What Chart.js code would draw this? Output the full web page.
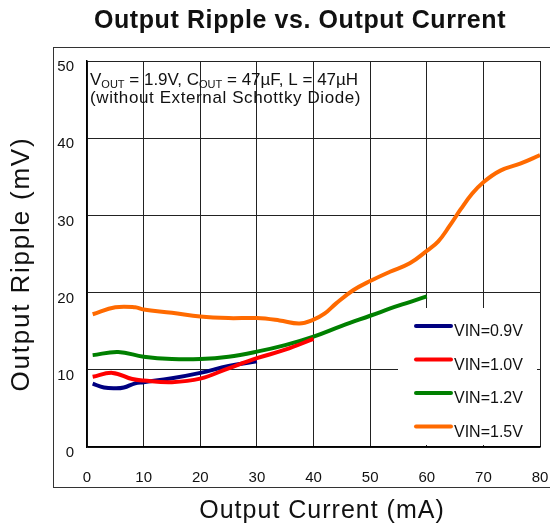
<!DOCTYPE html>
<html>
<head>
<meta charset="utf-8">
<script src="https://cdn.jsdelivr.net/npm/chart.js@4.4.1/dist/chart.umd.min.js"></script>
<style>
  html, body { margin: 0; padding: 0; background: #fff; }
  canvas { display: block; }
</style>
</head>
<body>
<canvas id="ripple" width="550" height="524"></canvas>
<script>
(() => {
  'use strict';

  // output current (mA) / output ripple (mV) per input voltage
  const vin09Current = [1, 3, 5, 6.5, 8.5, 10, 15, 20, 25, 30];
  const vin09Ripple = [8.2, 7.7, 7.6, 7.7, 8.25, 8.4, 8.9, 9.6, 10.5, 11.1];

  const vin10Current = [1, 4.5, 8, 10, 15, 20, 25, 30, 35, 40];
  const vin10Ripple = [9.1, 9.6, 8.8, 8.6, 8.4, 8.85, 10.2, 11.5, 12.6, 14.0];

  const vin12Current = [1, 5.5, 10, 15, 20, 25, 30, 35, 40, 45, 50, 55, 60];
  const vin12Ripple = [11.9, 12.3, 11.7, 11.4, 11.4, 11.7, 12.35, 13.2, 14.3, 15.7, 17.0, 18.3, 19.5];

  const vin15Current = [1, 5, 8.5, 10, 15, 20, 25, 30, 34, 37.5, 40, 42, 44, 47, 50, 53.5, 57, 60, 62, 64, 66, 68, 70, 73, 76.5, 80];
  const vin15Ripple = [17.2, 18.1, 18.1, 17.8, 17.4, 16.9, 16.7, 16.7, 16.4, 16.0, 16.5, 17.3, 18.6, 20.3, 21.5, 22.7, 23.8, 25.4, 26.6, 28.6, 30.8, 32.8, 34.3, 35.8, 36.7, 37.8];

  const seriesLabels = ['VIN=0.9V', 'VIN=1.0V', 'VIN=1.2V', 'VIN=1.5V'];
  const seriesColors = ['#000080', '#ff0000', '#008000', '#ff6a00'];

  const xTicks = [0, 10, 20, 30, 40, 50, 60, 70, 80];
  const yTicks = [0, 10, 20, 30, 40, 50];

  const FONT = "'Liberation Sans', Arial, sans-serif";

  const pairs = (xs, ys) => xs.map((x, i) => ({ x, y: ys[i] }));

  const series = [
    pairs(vin09Current, vin09Ripple),
    pairs(vin10Current, vin10Ripple),
    pairs(vin12Current, vin12Ripple),
    pairs(vin15Current, vin15Ripple)
  ];

  // title, outer frame, axis titles, note and legend
  const decorations = {
    id: 'decorations',
    beforeDraw(chart) {
      const ctx = chart.ctx;
      ctx.save();
      ctx.fillStyle = '#fff';
      ctx.fillRect(0, 0, chart.width, chart.height);
      ctx.strokeStyle = '#333';
      ctx.lineWidth = 1;
      ctx.strokeRect(53.5, 47.5, 520, 440);
      ctx.restore();
    },
    afterDraw(chart) {
      const ctx = chart.ctx;
      ctx.save();
      ctx.fillStyle = '#111';

      ctx.font = 'bold 25px ' + FONT;
      ctx.letterSpacing = '0.6px';
      ctx.textAlign = 'center';
      ctx.textBaseline = 'middle';
      ctx.fillText('Output Ripple vs. Output Current', 300, 21);

      ctx.font = '25px ' + FONT;
      ctx.letterSpacing = '1px';
      ctx.fillText('Output Current (mA)', 322, 511);

      ctx.save();
      ctx.translate(22, 264);
      ctx.rotate(-Math.PI / 2);
      ctx.font = '26px ' + FONT;
      ctx.letterSpacing = '1.8px';
      ctx.fillText('Output Ripple (mV)', 0, 0);
      ctx.restore();

      // conditions note
      ctx.textAlign = 'left';
      ctx.textBaseline = 'alphabetic';
      ctx.letterSpacing = '0px';
      const big = '17px ' + FONT;
      const small = '11px ' + FONT;
      let x = 90;
      const parts = [
        ['V', big, 0], ['OUT', small, 3], [' = 1.9V, C', big, 0], ['OUT', small, 3], [' = 47\u00b5F, L = 47\u00b5H', big, 0]
      ];
      parts.forEach(([txt, font, dy]) => {
        ctx.font = font;
        ctx.fillText(txt, x, 85 + dy);
        x += ctx.measureText(txt).width;
      });
      ctx.font = big;
      ctx.letterSpacing = '0.6px';
      ctx.fillText('(without External Schottky Diode)', 90, 103);

      // legend
      ctx.fillStyle = '#fff';
      ctx.fillRect(398, 308, 139, 137);
      ctx.letterSpacing = '0px';
      ctx.font = '16px ' + FONT;
      ctx.textBaseline = 'middle';
      seriesLabels.forEach((label, i) => {
        const y = 326 + i * 33.5;
        ctx.strokeStyle = seriesColors[i];
        ctx.lineWidth = 4;
        ctx.lineCap = 'round';
        ctx.beginPath();
        ctx.moveTo(416, y);
        ctx.lineTo(451, y);
        ctx.stroke();
        ctx.fillStyle = '#111';
        ctx.fillText(label, 454, y + 6);
      });
      ctx.restore();
    }
  };

  new Chart(document.getElementById('ripple'), {
    type: 'line',
    data: {
      datasets: series.map((data, i) => ({
        label: seriesLabels[i],
        data,
        borderColor: seriesColors[i],
        backgroundColor: seriesColors[i],
        borderWidth: 4,
        pointRadius: 0,
        tension: 0.4,
        fill: false,
        order: i === 1 ? 0 : 1
      }))
    },
    options: {
      responsive: false,
      animation: false,
      devicePixelRatio: 1,
      layout: { padding: { top: 61, right: 10, left: 0, bottom: 0 } },
      plugins: {
        legend: { display: false },
        title: { display: false },
        tooltip: { enabled: false }
      },
      scales: {
        x: {
          type: 'linear',
          min: 0,
          max: 80,
          afterFit: s => { s.height = 77; },
          afterBuildTicks: s => { s.ticks = xTicks.map(v => ({ value: v })); },
          grid: { color: '#222', lineWidth: 1, drawTicks: true, tickLength: 21, tickColor: 'rgba(0,0,0,0)' },
          border: { color: '#000', width: 1.5 },
          ticks: { padding: 1, color: '#111', font: { family: FONT, size: 15 }, maxRotation: 0 }
        },
        y: {
          min: 0,
          max: 50,
          afterFit: s => { s.width = 87; },
          afterBuildTicks: s => { s.ticks = yTicks.map(v => ({ value: v })); },
          grid: { color: '#222', lineWidth: 1, drawTicks: true, tickLength: 13, tickColor: 'rgba(0,0,0,0)' },
          border: { color: '#000', width: 1.5 },
          ticks: { padding: 0, labelOffset: 6, color: '#111', font: { family: FONT, size: 15 } }
        }
      }
    },
    plugins: [decorations]
  });
})();
</script>
</body>
</html>
